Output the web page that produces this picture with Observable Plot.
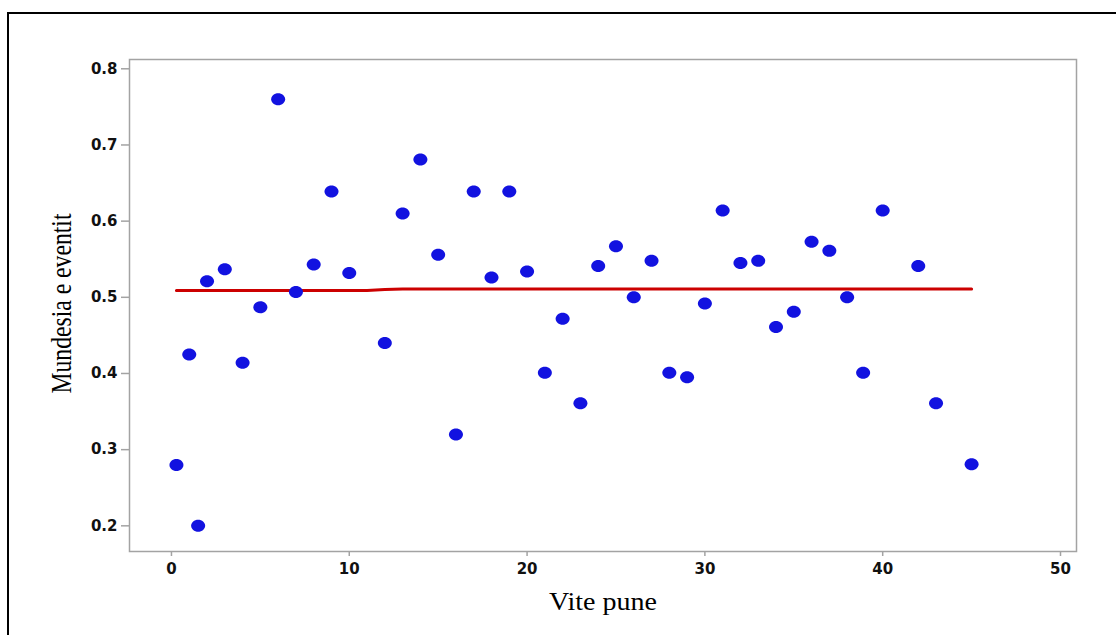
<!DOCTYPE html>
<html>
<head>
<meta charset="utf-8">
<script src="https://cdn.jsdelivr.net/npm/d3@7"></script>
<script src="https://cdn.jsdelivr.net/npm/@observablehq/plot@0.6"></script>
<style>
  html, body { margin: 0; padding: 0; background: #fff; overflow: hidden; }
  #wrap { position: relative; width: 1116px; height: 635px; overflow: hidden; }
  #frame { position: absolute; left: 7px; top: 12px; width: 1200px; height: 700px; border: 2px solid #000; box-sizing: border-box; }
  #chart { position: absolute; left: 0; top: 0; }
</style>
</head>
<body>
<div id="wrap"><div id="frame"></div><div id="chart"></div></div>
<script>
// Scatter data: "Vite pune" (x) vs "Mundesia e eventit" (y)
const xs = [0.28, 1, 1.5, 2, 3, 4, 5, 6, 7, 8, 9, 10, 12, 13, 14, 15, 16, 17, 18, 19, 20, 21, 22, 23, 24, 25, 26, 27, 28, 29, 30, 31, 32, 33, 34, 35, 36, 37, 38, 38.9, 40, 42, 43, 45];
const ys = [0.28, 0.425, 0.2, 0.521, 0.537, 0.414, 0.487, 0.76, 0.507, 0.543, 0.639, 0.532, 0.44, 0.61, 0.681, 0.556, 0.32, 0.639, 0.526, 0.639, 0.534, 0.401, 0.472, 0.361, 0.541, 0.567, 0.5, 0.548, 0.401, 0.395, 0.492, 0.614, 0.545, 0.548, 0.461, 0.481, 0.573, 0.561, 0.5, 0.401, 0.614, 0.541, 0.361, 0.281];
// Smoothed fit line
const fitX = [0.28, 11, 12, 13, 45];
const fitY = [0.509, 0.509, 0.5102, 0.511, 0.511];
// Ticks and labels
const xTicks = [0, 10, 20, 30, 40, 50];
const yTicks = [0.2, 0.3, 0.4, 0.5, 0.6, 0.7, 0.8];
const xLabel = "Vite pune";
const yLabel = "Mundesia e eventit";

const points = xs.map((x, i) => ({x, y: ys[i]}));
const fit = fitX.map((x, i) => ({x, y: fitY[i]}));

// ellipse symbol (slightly wider than tall)
const ellipse = {
  draw(ctx, size) {
    const r = Math.sqrt(size / Math.PI);
    const rx = r * 7 / 6, ry = r, k = 0.5523;
    ctx.moveTo(rx, 0);
    ctx.bezierCurveTo(rx, ry * k, rx * k, ry, 0, ry);
    ctx.bezierCurveTo(-rx * k, ry, -rx, ry * k, -rx, 0);
    ctx.bezierCurveTo(-rx, -ry * k, -rx * k, -ry, 0, -ry);
    ctx.bezierCurveTo(rx * k, -ry, rx, -ry * k, rx, 0);
    ctx.closePath();
  }
};

const tickFont = {fontFamily: "DejaVu Sans, sans-serif", fontSize: 15, fontWeight: "bold", fill: "#111"};

const plot = Plot.plot({
  width: 1116,
  height: 635,
  marginLeft: 129,
  marginRight: 40,
  marginTop: 59,
  marginBottom: 84,
  style: {fontFamily: "DejaVu Sans, sans-serif", fontSize: "15px", background: "transparent"},
  x: {domain: [-2.36, 50.9]},
  y: {domain: [0.1663, 0.8122]},
  marks: [
    Plot.frame({stroke: "#a3a3a3", strokeWidth: 1.5}),
    Plot.axisX({ticks: xTicks, tickSize: 5, tickPadding: 7, stroke: "#a3a3a3", strokeWidth: 1.5, ...tickFont, label: null}),
    Plot.axisY({ticks: yTicks, tickFormat: d3.format(".1f"), tickSize: 8, tickPadding: 4, stroke: "#a3a3a3", strokeWidth: 1.5, ...tickFont, label: null}),
    Plot.line(fit, {x: "x", y: "y", stroke: "#cc0000", strokeWidth: 3}),
    Plot.dot(points, {x: "x", y: "y", r: 6, symbol: ellipse, fill: "#1212e0", stroke: "none"}),
    Plot.text([xLabel], {text: d => d, frameAnchor: "bottom", dy: 50, fontFamily: "Liberation Serif, Times New Roman, serif", fontSize: 25, fill: "#000", lineAnchor: "middle", textAnchor: "middle"}),
    Plot.text([yLabel], {text: d => d, frameAnchor: "left", dx: -68, dy: -2, rotate: -90, fontFamily: "Liberation Serif, Times New Roman, serif", fontSize: 30, fill: "#000", lineAnchor: "middle", textAnchor: "middle"})
  ]
});

// stretch axis titles to the reference proportions
plot.querySelectorAll("text").forEach(t => {
  if (t.textContent === xLabel) { t.setAttribute("textLength", 108); t.setAttribute("lengthAdjust", "spacingAndGlyphs"); }
  if (t.textContent === yLabel) { t.setAttribute("textLength", 180); t.setAttribute("lengthAdjust", "spacingAndGlyphs"); }
});

document.getElementById("chart").appendChild(plot);
</script>
</body>
</html>
